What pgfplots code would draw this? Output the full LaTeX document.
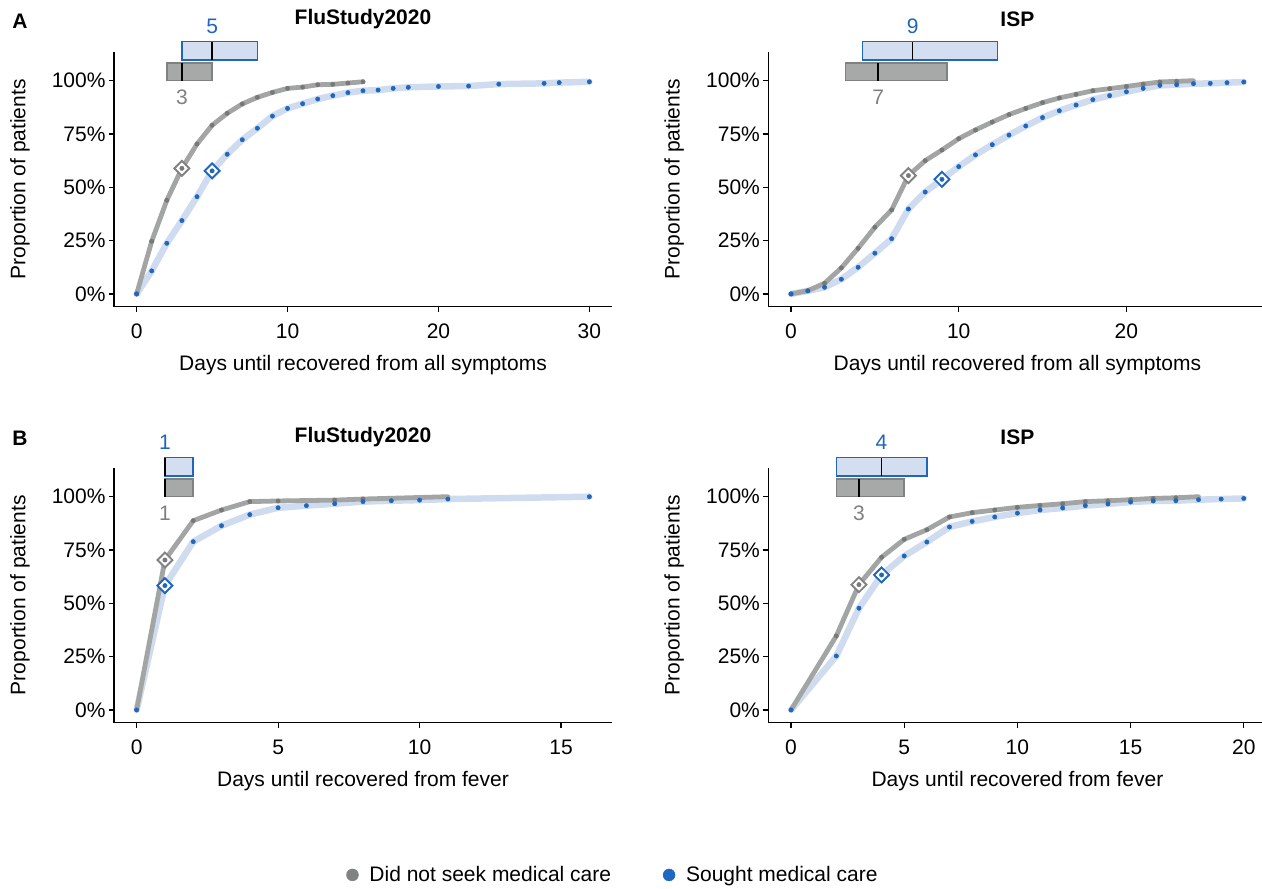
\documentclass[border=0pt]{standalone}
\usepackage{pgfplots}
\pgfplotsset{compat=1.18}
\usepackage{fontspec}
\setmainfont{Liberation Sans}
\newcommand{\fs}{\fontsize{21}{25}\selectfont}
\definecolor{gline}{RGB}{162,165,164}
\definecolor{gdot}{RGB}{118,121,120}
\definecolor{gdia}{RGB}{128,131,130}
\definecolor{bband}{RGB}{207,220,240}
\definecolor{bdot}{RGB}{30,102,190}
\definecolor{gbox}{RGB}{166,169,168}
\definecolor{gboxd}{RGB}{128,130,129}
\definecolor{bbox}{RGB}{211,223,240}
\definecolor{gtext}{RGB}{128,128,128}
\definecolor{lgrey}{RGB}{128,131,130}
\definecolor{lblue}{RGB}{31,103,192}

\pgfplotsset{
 panel/.style={
  scale only axis, width=498pt, height=255pt,
  axis lines=left, axis line style={-, line width=1.2pt},
  every tick/.style={black, line width=1.2pt},
  tick align=outside, major tick length=5pt,
  ymin=-6, ymax=113.6,
  ytick={0,25,50,75,100}, yticklabels={0\%,25\%,50\%,75\%,100\%},
  /pgf/number format/assume math mode=true,
  tick label style={font=\fs},
  xticklabel style={yshift=-9pt},
  ylabel={Proportion of patients},
  ylabel style={at={(axis description cs:-0.189,0.5)}, anchor=center, font=\fs},
  xlabel style={at={(axis description cs:0.5,-0.2275)}, anchor=center, font=\fs},
  clip=false,
 },
 toptitle/.style={title style={at={(axis description cs:0.5,1.104)}, anchor=center, font=\fs\bfseries}},
 bottitle/.style={title style={at={(axis description cs:0.5,1.097)}, anchor=center, font=\fs\bfseries}},
 gl/.style={no marks, color=gline, line width=4.8pt, line join=round, line cap=round},
 bl/.style={no marks, color=bband, line width=6.5pt, line join=round, line cap=round},
 gd/.style={only marks, mark=*, mark size=2.2pt, color=gdot},
 bd/.style={only marks, mark=*, mark size=2.2pt, color=bdot},
 gdia/.style={only marks, mark=square*, mark size=5.3pt, mark options={rotate=45, fill=white, draw=gdia, line width=1.9pt}},
 bdia/.style={only marks, mark=square*, mark size=5.3pt, mark options={rotate=45, fill=white, draw=bdot, line width=1.9pt}},
 gbx/.style={fill=gbox, draw=gboxd, line width=1.5pt, no marks},
 bbx/.style={fill=bbox, draw=bdot, line width=1.5pt, no marks},
 med/.style={black, line width=1.5pt, no marks},
}

\begin{document}
\begin{tikzpicture}
\path[use as bounding box] (0pt,0pt) rectangle (1262pt,-889pt);
\node[font=\fs\bfseries] at (20pt,-21pt) {A};
\node[font=\fs\bfseries] at (20pt,-438pt) {B};

% ---------- A left
\begin{axis}[panel, toptitle, at={(114pt,-306.7pt)}, anchor=south west,
  xmin=-1.5, xmax=31.5, xtick={0,10,20,30},
  title={FluStudy2020}, xlabel={Days until recovered from all symptoms}]
\addplot[bl] coordinates {(0,0)(1,10.8)(2,23.75)(3,34.4)(4,45.6)(5,57.7)(6,65.5)(7,72.3)(8,77.7)(9,83.4)(10,87.0)(11,89.2)(12,91.4)(13,93.0)(14,94.4)(15,95.3)(16,95.6)(17,96.4)(18,96.9)(20,97.3)(22,97.5)(24,98.4)(27,98.75)(28,99.1)(30,99.5)};
\addplot[gl] coordinates {(0,0)(1,24.7)(2,43.9)(3,58.9)(4,70.3)(5,79.1)(6,84.7)(7,89.1)(8,92.2)(9,94.5)(10,96.4)(11,97.0)(12,98.1)(13,98.3)(14,98.9)(15,99.5)};
\addplot[gdia] coordinates {(3,58.9)};
\addplot[bdia] coordinates {(5,57.7)};
\addplot[gd] coordinates {(0,0)(1,24.7)(2,43.9)(3,58.9)(4,70.3)(5,79.1)(6,84.7)(7,89.1)(8,92.2)(9,94.5)(10,96.4)(11,97.0)(12,98.1)(13,98.3)(14,98.9)(15,99.5)};
\addplot[bd] coordinates {(0,0)(1,10.8)(2,23.75)(3,34.4)(4,45.6)(5,57.7)(6,65.5)(7,72.3)(8,77.7)(9,83.4)(10,87.0)(11,89.2)(12,91.4)(13,93.0)(14,94.4)(15,95.3)(16,95.6)(17,96.4)(18,96.9)(20,97.3)(22,97.5)(24,98.4)(27,98.75)(28,99.1)(30,99.5)};
\addplot[gbx] coordinates {(2,100)(5,100)(5,108.4)(2,108.4)} -- cycle;
\addplot[med] coordinates {(3,100)(3,108.4)};
\addplot[bbx] coordinates {(3,109.8)(8,109.8)(8,118.3)(3,118.3)} -- cycle;
\addplot[med] coordinates {(5,109.8)(5,118.3)};
\node[font=\fs, text=bdot] at (axis cs:5,125.4) {5};
\node[font=\fs, text=gtext] at (axis cs:3,92.4) {3};
\end{axis}

% ---------- A right
\begin{axis}[panel, toptitle, at={(768.4pt,-306.7pt)}, anchor=south west,
  xmin=-1.35, xmax=28.35, xtick={0,10,20},
  title={ISP}, xlabel={Days until recovered from all symptoms}]
\addplot[bl] coordinates {(0,0)(1,1.4)(2,3.1)(3,6.9)(4,12.5)(5,19.1)(6,25.9)(7,39.8)(8,47.8)(9,53.75)(10,59.7)(11,65.2)(12,70.0)(13,74.5)(14,78.75)(15,82.7)(16,85.9)(17,88.6)(18,91.1)(19,93.0)(20,94.8)(21,96.4)(22,97.8)(23,98.1)(24,98.6)(25,98.75)(26,99.06)(27,99.4)};
\addplot[gl] coordinates {(0,0)(1,1.5)(2,5.0)(3,12.2)(4,21.4)(5,31.25)(6,39.4)(7,55.5)(8,62.5)(9,67.5)(10,72.8)(11,76.9)(12,80.6)(13,84.1)(14,87.0)(15,89.7)(16,91.9)(17,93.6)(18,95.3)(19,96.25)(20,97.3)(21,98.4)(22,99.4)(23,99.7)(24,100)};
\addplot[gdia] coordinates {(7,55.5)};
\addplot[bdia] coordinates {(9,53.75)};
\addplot[gd] coordinates {(0,0)(1,1.5)(2,5.0)(3,12.2)(4,21.4)(5,31.25)(6,39.4)(7,55.5)(8,62.5)(9,67.5)(10,72.8)(11,76.9)(12,80.6)(13,84.1)(14,87.0)(15,89.7)(16,91.9)(17,93.6)(18,95.3)(19,96.25)(20,97.3)(21,98.4)(22,99.4)(23,99.7)};
\addplot[bd] coordinates {(0,0)(1,1.4)(2,3.1)(3,6.9)(4,12.5)(5,19.1)(6,25.9)(7,39.8)(8,47.8)(9,53.75)(10,59.7)(11,65.2)(12,70.0)(13,74.5)(14,78.75)(15,82.7)(16,85.9)(17,88.6)(18,91.1)(19,93.0)(20,94.8)(21,96.4)(22,97.8)(23,98.1)(24,98.6)(25,98.75)(26,99.06)(27,99.4)};
\addplot[gbx] coordinates {(3.25,100)(9.3,100)(9.3,108.4)(3.25,108.4)} -- cycle;
\addplot[med] coordinates {(5.2,100)(5.2,108.4)};
\addplot[bbx] coordinates {(4.25,109.8)(12.3,109.8)(12.3,118.3)(4.25,118.3)} -- cycle;
\addplot[med] coordinates {(7.25,109.8)(7.25,118.3)};
\node[font=\fs, text=bdot] at (axis cs:7.25,125.4) {9};
\node[font=\fs, text=gtext] at (axis cs:5.2,92.4) {7};
\end{axis}

% ---------- B left
\begin{axis}[panel, bottitle, at={(114pt,-722.7pt)}, anchor=south west,
  xmin=-0.8, xmax=16.8, xtick={0,5,10,15},
  title={FluStudy2020}, xlabel={Days until recovered from fever},
  legend style={at={(axis description cs:1.002,-0.597)}, anchor=center, draw=none, fill=none,
    legend columns=2, font=\fs,
    /tikz/every odd column/.append style={column sep=9pt},
    /tikz/every even column/.append style={column sep=50pt}}]
\addlegendimage{only marks, mark=*, mark size=6pt, color=lgrey}
\addlegendentry{Did not seek medical care}
\addlegendimage{only marks, mark=*, mark size=6pt, color=lblue}
\addlegendentry{Sought medical care}
\addplot[bl] coordinates {(0,0)(1,58.3)(2,78.9)(3,86.4)(4,91.6)(5,94.8)(6,95.8)(7,96.7)(8,97.7)(9,98.1)(10,98.4)(11,98.9)(16,100)};
\addplot[gl] coordinates {(0,0)(1,70.3)(2,88.75)(3,93.75)(4,97.7)(5,98.0)(7,98.4)(8,98.9)(11,100)};
\addplot[gdia] coordinates {(1,70.3)};
\addplot[bdia] coordinates {(1,58.3)};
\addplot[gd] coordinates {(1,70.3)(2,88.75)(3,93.75)(4,97.7)(5,98.0)(7,98.4)(8,98.9)};
\addplot[bd] coordinates {(0,0)(1,58.3)(2,78.9)(3,86.4)(4,91.6)(5,94.8)(6,95.8)(7,96.7)(8,97.7)(9,98.1)(10,98.4)(11,98.9)(16,100)};
\addplot[gbx] coordinates {(1,100)(2,100)(2,108.4)(1,108.4)} -- cycle;
\addplot[med] coordinates {(1,100)(1,108.4)};
\addplot[bbx] coordinates {(1,109.8)(2,109.8)(2,118.3)(1,118.3)} -- cycle;
\addplot[med] coordinates {(1,109.8)(1,118.3)};
\node[font=\fs, text=bdot] at (axis cs:1,125.4) {1};
\node[font=\fs, text=gtext] at (axis cs:1,92.4) {1};
\end{axis}

% ---------- B right
\begin{axis}[panel, bottitle, at={(768.4pt,-722.7pt)}, anchor=south west,
  xmin=-1, xmax=21, xtick={0,5,10,15,20},
  title={ISP}, xlabel={Days until recovered from fever}]
\addplot[bl] coordinates {(0,0)(2,25.3)(3,47.7)(4,63.3)(5,72.2)(6,78.75)(7,85.8)(8,88.4)(9,90.5)(10,92.3)(11,93.75)(12,94.7)(13,95.8)(14,96.6)(15,97.5)(16,98.0)(17,98.1)(18,98.6)(19,98.9)(20,99.2)};
\addplot[gl] coordinates {(0,0)(2,34.7)(3,58.75)(4,71.6)(5,80.0)(6,84.5)(7,90.5)(8,92.5)(9,93.75)(10,95.0)(11,95.9)(12,96.7)(13,97.7)(14,98.1)(15,98.6)(16,99.2)(17,99.5)(18,100)};
\addplot[gdia] coordinates {(3,58.75)};
\addplot[bdia] coordinates {(4,63.3)};
\addplot[gd] coordinates {(2,34.7)(3,58.75)(4,71.6)(5,80.0)(6,84.5)(7,90.5)(8,92.5)(9,93.75)(10,95.0)(11,95.9)(12,96.7)(13,97.7)(14,98.1)(15,98.6)(16,99.2)(17,99.5)};
\addplot[bd] coordinates {(0,0)(2,25.3)(3,47.7)(4,63.3)(5,72.2)(6,78.75)(7,85.8)(8,88.4)(9,90.5)(10,92.3)(11,93.75)(12,94.7)(13,95.8)(14,96.6)(15,97.5)(16,98.0)(17,98.1)(18,98.6)(19,98.9)(20,99.2)};
\addplot[gbx] coordinates {(2,100)(5,100)(5,108.4)(2,108.4)} -- cycle;
\addplot[med] coordinates {(3,100)(3,108.4)};
\addplot[bbx] coordinates {(2,109.8)(6,109.8)(6,118.3)(2,118.3)} -- cycle;
\addplot[med] coordinates {(4,109.8)(4,118.3)};
\node[font=\fs, text=bdot] at (axis cs:4,125.4) {4};
\node[font=\fs, text=gtext] at (axis cs:3,92.4) {3};
\end{axis}
\end{tikzpicture}
\end{document}
